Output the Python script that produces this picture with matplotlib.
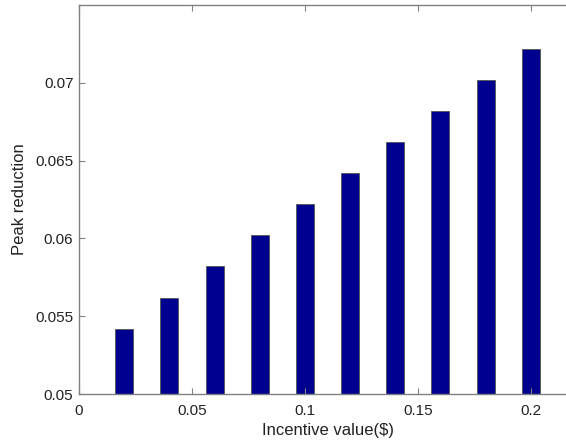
import matplotlib
matplotlib.use('Agg')
import matplotlib.pyplot as plt

plt.rcParams['font.family'] = ['Liberation Sans', 'DejaVu Sans']

incentive = [0.02, 0.04, 0.06, 0.08, 0.10, 0.12, 0.14, 0.16, 0.18, 0.20]
reduction = [0.0542, 0.0562, 0.0582, 0.0602, 0.0622, 0.0642, 0.0662, 0.0682, 0.0702, 0.0722]
xticks = [0, 0.05, 0.1, 0.15, 0.2]
xticklabels = ['0', '0.05', '0.1', '0.15', '0.2']
yticks = [0.05, 0.055, 0.06, 0.065, 0.07]
yticklabels = ['0.05', '0.055', '0.06', '0.065', '0.07']

fig = plt.figure(figsize=(5.66, 4.41), dpi=100)
# axes run past the right edge of the picture, like the cropped original
ax = fig.add_axes([79/566, 1 - 394/441, 497/566, 389/441])

ax.bar(incentive, [r - 0.05 for r in reduction], bottom=0.05, width=0.008,
       color='#00008F', edgecolor='#555555', linewidth=0.6)

ax.set_xlim(0, 0.22)
ax.set_ylim(0.05, 0.075)
ax.set_xticks(xticks)
ax.set_xticklabels(xticklabels)
ax.set_yticks(yticks)
ax.set_yticklabels(yticklabels)

for s in ax.spines.values():
    s.set_color('#808080')
    s.set_linewidth(1.0)
ax.tick_params(direction='in', length=4, color='#808080', labelsize=11,
               top=True, right=True, labelcolor='#222222')
ax.tick_params(axis='x', pad=7)
ax.tick_params(axis='y', pad=4)

ax.set_xlabel('Incentive value($)', fontsize=12, color='#222222', labelpad=4)
ax.set_ylabel('Peak reduction', fontsize=12, color='#222222', labelpad=6)

fig.savefig('out.png', dpi=100)
